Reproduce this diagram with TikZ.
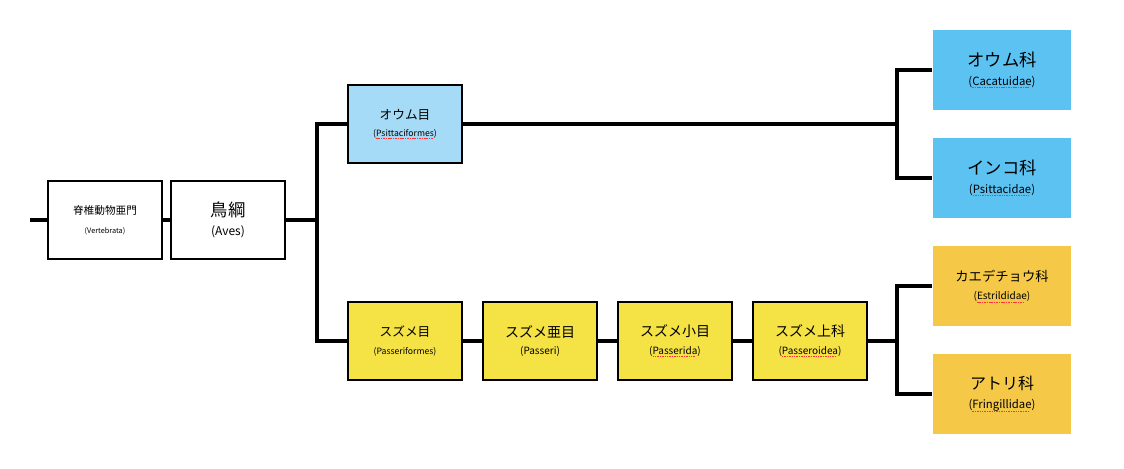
\documentclass[tikz,border=0pt]{standalone}
\usepackage{fontspec}
\setmainfont{Noto Sans CJK JP}
\usetikzlibrary{positioning}
\newcommand{\sqword}[1]{\setbox0\hbox{#1}\rlap{\color{red!80}\raisebox{-2pt}{\leaders\hbox to 1.8pt{\rule{1.1pt}{0.6pt}\hss}\hskip\wd0}}\box0}
\tikzset{
  taxon/.style={draw, line width=1.5pt, minimum width=86pt, minimum height=59pt, align=center, inner sep=1pt},
  family/.style={minimum width=104pt, minimum height=60pt, align=center, inner sep=1pt},
  branch/.style={line width=3pt}
}
\definecolor{parrotblue}{HTML}{5BC2F2}
\definecolor{parrotlight}{HTML}{A6DBF7}
\definecolor{sparrowyellow}{HTML}{F5E244}
\definecolor{sparrowgold}{HTML}{F5C947}
\begin{document}
\begin{tikzpicture}[x=0.75pt, y=-0.75pt]
  \useasboundingbox (0,0) rectangle (1124,468);

  % Phylum and class
  \node[taxon] (vert) at (105,220) {\fontsize{8}{10}\selectfont 脊椎動物亜門\\[2pt]\fontsize{5.5}{7}\selectfont (Vertebrata)};
  \node[taxon] (aves) at (228,220) {\fontsize{13}{15}\selectfont 鳥綱\\[2pt]\fontsize{9}{11}\selectfont (Aves)};

  % Orders
  \node[taxon, fill=parrotlight] (psit) at (405,124) {\fontsize{9.5}{11}\selectfont オウム目\\[1pt]\fontsize{6.5}{8}\selectfont (\sqword{Psittaciformes})};
  \node[taxon, fill=sparrowyellow] (pass) at (405,341) {\fontsize{9.5}{11}\selectfont スズメ目\\[1pt]\fontsize{6.5}{8}\selectfont (Passeriformes)};
  \node[taxon, fill=sparrowyellow] (passeri) at (540,341) {\fontsize{10.5}{12}\selectfont スズメ亜目\\[1pt]\fontsize{7.5}{9}\selectfont (Passeri)};
  \node[taxon, fill=sparrowyellow] (passerida) at (675,341) {\fontsize{10.5}{12}\selectfont スズメ小目\\[1pt]\fontsize{7.5}{9}\selectfont (\sqword{Passerida})};
  \node[taxon, fill=sparrowyellow] (passeroid) at (810,341) {\fontsize{10.5}{12}\selectfont スズメ上科\\[1pt]\fontsize{7.5}{9}\selectfont (\sqword{Passeroidea})};

  % Families
  \node[family, fill=parrotblue] (caca) at (1002,70) {\fontsize{13}{15}\selectfont オウム科\\[2pt]\fontsize{8.5}{10}\selectfont (\sqword{Cacatuidae})};
  \node[family, fill=parrotblue] (psitt) at (1002,178) {\fontsize{13}{15}\selectfont インコ科\\[2pt]\fontsize{8.5}{10}\selectfont (\sqword{Psittacidae})};
  \node[family, fill=sparrowgold] (estr) at (1002,286) {\fontsize{10}{12}\selectfont カエデチョウ科\\[2pt]\fontsize{7.5}{9}\selectfont (\sqword{Estrildidae})};
  \node[family, fill=sparrowgold] (fring) at (1002,394) {\fontsize{12}{14}\selectfont アトリ科\\[2pt]\fontsize{8.5}{10}\selectfont (\sqword{Fringillidae})};

  % Branches
  \coordinate (root) at (30,220);
  \coordinate (forkA) at (317,220);
  \coordinate (forkP) at (897,124);
  \coordinate (forkS) at (897,341);
  \draw[branch] (root) -- (vert);
  \draw[branch] (vert) -- (aves);
  \draw[branch] (aves) -- (forkA);
  \draw[branch] (psit.west) -| (forkA) |- (pass.west);
  \draw[branch] (psit) -- (forkP);
  \draw[branch] (caca.west) -| (forkP) |- (psitt.west);
  \draw[branch] (pass) -- (passeri);
  \draw[branch] (passeri) -- (passerida);
  \draw[branch] (passerida) -- (passeroid);
  \draw[branch] (passeroid) -- (forkS);
  \draw[branch] (estr.west) -| (forkS) |- (fring.west);
\end{tikzpicture}
\end{document}
